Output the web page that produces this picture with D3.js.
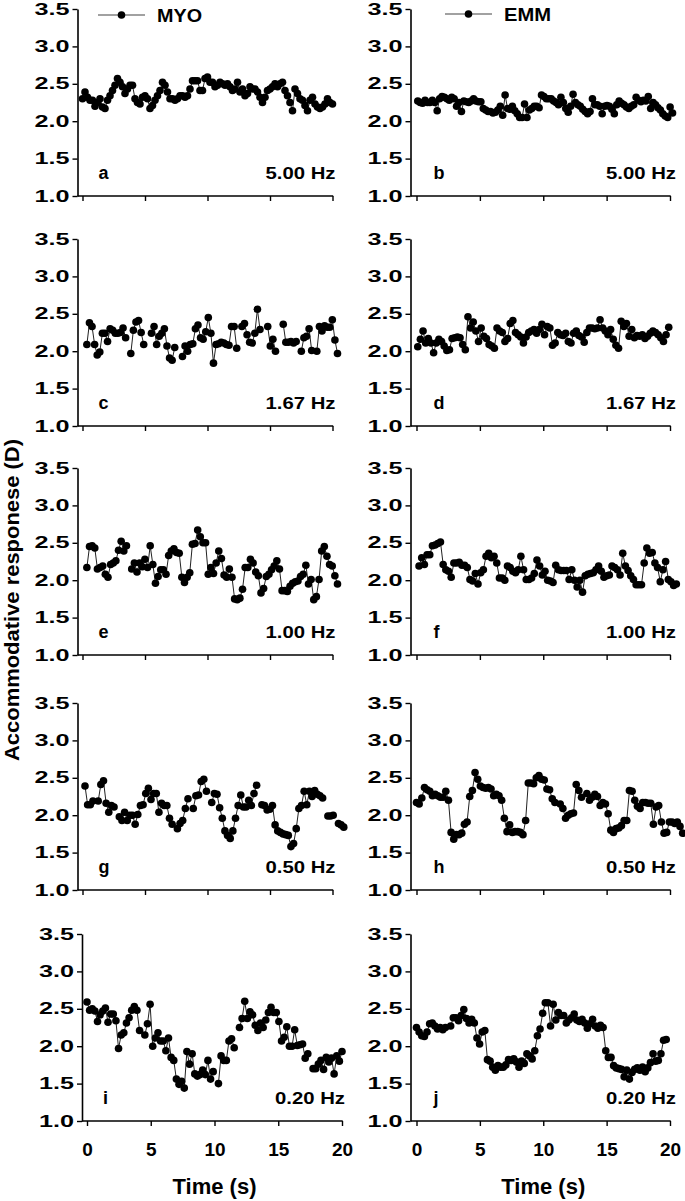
<!DOCTYPE html>
<html><head><meta charset="utf-8">
<script src="https://cdn.jsdelivr.net/npm/d3@7"></script>
<style>
body{margin:0;background:#fff}
svg{display:block}
text{font-family:"Liberation Sans",Arial,sans-serif;font-weight:bold;fill:#000}
</style>
</head><body>
<svg id="chart" width="685" height="1201"></svg>
<script>
// ---------------- data ----------------
const yTicks = [1.0, 1.5, 2.0, 2.5, 3.0, 3.5];
const xTicks = [0, 5, 10, 15, 20];
const seriesNames = ["MYO", "EMM"];
const panelLetters = ["a","b","c","d","e","f","g","h","i","j"];
const freqLabels = ["5.00 Hz","5.00 Hz","1.67 Hz","1.67 Hz","1.00 Hz","1.00 Hz","0.50 Hz","0.50 Hz","0.20 Hz","0.20 Hz"];
const yTitle = "Accommodative responese (D)";
const xTitle = "Time (s)";
// time span [first, last sample] in seconds for each panel (samples evenly spaced, null = missing)
const spans = [[0,20],[0.1,20.2],[0.35,20.4],[0.1,19.9],[0.35,20.4],[0.2,20.5],[0.2,20.9],[0,21],[0,20],[0,19.7]];

const myo5 = [2.30,2.39,2.32,2.28,2.28,2.20,2.25,2.30,2.19,2.17,2.28,2.34,2.41,2.48,2.57,2.52,2.46,2.37,2.43,2.48,2.48,2.30,2.25,2.23,2.32,2.34,2.30,2.17,2.21,2.28,2.34,2.41,2.52,2.48,2.39,2.30,2.30,2.28,2.30,2.34,2.34,2.32,2.34,2.43,2.54,2.54,2.54,2.41,2.41,2.57,2.59,2.52,2.52,2.46,2.48,2.52,2.50,2.48,2.50,2.46,2.41,2.43,2.52,2.39,2.43,2.34,2.37,2.46,2.43,2.43,2.39,2.32,2.25,2.32,2.41,2.43,2.46,2.50,2.46,2.50,2.52,2.41,2.34,2.25,2.14,2.43,2.37,2.30,2.28,2.21,2.14,2.28,2.32,2.23,2.19,2.17,2.19,2.23,2.30,2.25,2.23];
const emm5 = [2.27,2.25,2.24,2.28,2.25,2.25,2.28,2.25,2.14,2.30,2.33,2.32,2.30,2.28,2.32,2.30,2.20,2.25,2.13,2.27,2.26,2.25,2.27,2.30,2.27,2.26,2.26,2.17,2.15,2.13,2.13,2.11,2.12,2.15,2.20,2.08,2.35,2.17,2.16,2.20,2.14,2.10,2.05,2.05,2.23,2.05,2.15,2.17,2.20,2.20,2.18,2.35,2.33,2.30,2.30,2.30,2.27,2.25,2.22,2.32,2.25,2.17,2.12,2.20,2.36,2.25,2.22,2.20,2.16,2.13,2.10,2.13,2.30,2.22,2.22,2.20,2.10,2.20,2.21,2.20,2.16,2.10,2.22,2.27,2.24,2.22,2.19,2.17,2.20,2.22,2.32,2.28,2.26,2.28,2.27,2.33,2.17,2.25,2.22,2.18,2.15,2.10,2.07,2.05,2.19,2.11];
const myo167 = [2.09,2.38,2.33,2.09,1.95,1.99,2.24,2.24,2.13,2.30,2.28,2.24,2.24,2.25,2.31,2.18,null,1.97,2.28,2.39,2.41,2.25,2.09,null,null,2.24,2.33,2.09,2.20,2.24,2.30,2.07,1.91,1.88,2.05,null,null,1.93,2.07,2.00,2.09,2.10,2.30,2.35,2.18,2.16,2.26,2.45,2.24,1.84,2.09,2.10,2.12,2.11,2.09,2.08,2.33,2.33,2.04,null,2.33,2.37,2.22,2.12,2.11,2.24,2.56,2.29,null,null,2.33,2.07,2.16,2.00,null,null,2.36,2.12,2.12,2.13,2.11,2.13,null,2.00,2.18,2.20,2.30,2.01,null,2.00,2.33,2.27,2.34,2.32,2.32,2.42,2.15,1.97];
const emm167 = [2.06,2.16,2.27,2.11,2.17,2.11,1.98,2.11,2.16,2.13,2.07,2.01,2.02,2.17,2.18,2.19,2.18,2.09,2.02,2.46,2.31,2.39,2.27,2.13,2.31,2.20,2.17,2.09,2.07,2.04,2.31,2.27,2.25,2.13,2.17,2.37,2.41,2.25,2.22,2.19,2.11,2.19,2.25,2.27,2.29,2.24,2.29,2.36,2.22,2.33,2.31,2.08,2.11,2.25,2.22,2.21,2.24,2.13,2.11,2.24,2.27,2.21,2.19,2.12,2.25,2.31,2.31,2.30,2.31,2.42,2.31,2.27,2.22,2.29,2.16,2.08,2.04,2.40,2.33,2.37,2.20,2.29,2.18,2.21,2.20,2.22,2.17,2.20,2.24,2.27,2.25,2.22,2.18,2.13,2.22,2.32];
const myo100 = [2.17,2.45,2.46,2.43,2.15,2.17,2.19,2.08,2.04,2.21,2.23,2.26,2.40,2.52,2.39,2.46,null,2.15,2.23,2.11,2.23,2.18,2.28,2.17,2.46,2.21,1.96,2.05,2.14,2.14,2.08,2.33,2.39,2.42,2.37,2.36,2.04,1.97,2.04,2.10,2.48,2.49,2.67,2.58,2.50,2.50,2.08,2.17,2.09,2.23,2.39,2.29,2.07,2.04,2.15,2.04,1.75,1.74,1.76,1.88,2.17,2.17,2.28,2.23,2.11,2.06,1.83,1.89,2.05,2.08,2.14,2.19,2.26,2.15,1.86,1.86,1.85,1.92,1.96,1.98,1.99,2.05,2.08,2.20,1.95,2.01,1.74,1.78,2.01,2.39,2.45,2.32,2.21,2.19,2.06,1.95];
const emm100 = [2.19,2.30,2.21,2.34,2.34,2.46,2.47,2.49,2.51,2.21,2.14,2.12,2.04,2.23,2.23,2.24,2.20,2.20,2.17,2.01,1.99,2.09,1.95,2.10,2.14,2.32,2.36,2.30,2.32,2.23,2.03,2.03,2.00,2.19,2.17,2.12,2.10,2.14,2.32,2.14,2.01,2.01,2.03,2.09,2.27,2.19,2.07,2.12,2.00,1.99,1.97,2.20,2.14,2.13,2.13,2.13,2.01,2.14,2.00,1.91,2.00,1.84,2.06,2.08,2.09,2.10,2.14,2.19,2.12,2.04,2.06,2.07,2.19,2.17,2.14,2.07,2.36,2.19,2.13,2.06,2.01,1.94,1.94,1.94,2.23,2.43,2.36,2.37,2.23,2.17,1.98,2.14,2.25,2.01,1.98,1.93,1.95];
const myo050 = [2.39,2.14,2.14,2.19,null,2.19,2.41,2.46,2.16,2.04,2.13,2.11,null,1.98,1.93,2.04,1.93,2.00,2.00,1.88,2.01,2.13,2.14,2.29,2.36,2.21,2.29,2.29,2.04,2.16,2.13,2.13,1.96,1.88,null,1.82,1.89,1.93,2.09,2.22,null,2.09,2.26,2.27,2.45,2.48,2.32,null,2.17,2.29,2.28,2.10,1.96,1.79,1.73,1.69,1.79,1.96,2.13,2.27,2.11,2.11,2.20,2.13,2.29,2.40,null,2.14,2.13,2.07,2.08,2.13,1.87,1.79,1.77,1.75,1.74,1.73,1.58,1.62,1.82,2.09,2.13,2.32,2.14,2.32,2.25,2.33,2.28,2.26,2.23,null,1.99,1.99,2.00,null,1.89,1.87,1.84];
const emm050 = [2.17,2.15,2.23,2.37,2.34,2.32,2.26,2.28,2.26,2.24,2.24,2.32,2.20,1.77,1.68,1.74,1.74,1.76,1.88,1.91,2.25,2.33,2.57,2.48,2.39,2.37,2.36,2.37,2.35,2.26,2.28,2.26,2.20,1.96,1.78,1.87,1.77,1.78,1.78,1.77,1.74,1.93,2.43,2.43,2.42,2.50,2.53,2.48,2.47,2.35,2.34,2.22,2.17,null,2.15,2.09,1.96,2.00,2.02,2.03,2.41,2.33,2.24,null,2.29,2.20,2.24,2.28,2.25,2.13,2.17,2.15,2.02,1.80,1.77,1.82,1.83,1.86,1.93,1.93,2.33,2.32,2.20,2.12,2.09,2.17,2.17,2.16,2.16,1.88,2.11,2.13,1.91,1.76,1.77,1.91,1.91,1.89,1.91,1.85,1.76];
const myo020 = [2.59,2.48,2.50,2.47,2.33,2.42,2.47,2.51,2.32,2.43,2.43,2.34,1.97,2.15,2.18,2.31,2.38,2.48,2.53,2.48,2.21,null,2.15,2.30,2.56,2.00,2.11,2.18,2.07,2.07,1.94,2.11,1.85,1.81,1.56,1.49,1.53,1.44,1.93,1.76,1.90,1.63,1.60,1.62,1.68,1.62,1.81,1.56,1.66,null,1.50,1.87,1.81,1.81,2.07,2.10,1.98,null,2.25,2.37,2.60,2.37,2.46,2.42,2.28,2.21,2.31,2.25,2.35,2.45,2.52,2.45,2.45,2.33,2.07,2.12,2.26,2.00,2.00,2.22,2.01,2.02,2.03,1.84,1.90,null,1.70,1.70,1.76,1.81,1.69,1.85,1.79,1.84,1.63,1.87,1.80,1.93];
const emm020 = [2.25,2.19,2.14,2.13,2.19,2.30,2.31,2.27,2.23,2.25,2.22,2.25,null,2.27,2.38,2.38,2.34,2.41,2.49,2.37,2.31,2.36,2.31,2.11,2.03,2.19,2.21,1.82,1.80,1.72,1.68,1.74,1.72,1.72,1.75,1.82,1.81,1.83,1.79,1.72,1.80,1.77,1.90,1.87,1.83,1.94,2.14,2.23,2.44,2.58,2.58,2.27,2.56,2.35,2.45,2.41,2.41,2.31,2.35,2.38,2.43,2.35,2.33,2.36,2.31,2.24,2.30,2.36,2.27,2.24,2.28,2.25,1.94,1.85,1.85,1.74,1.71,1.70,1.69,1.59,1.68,1.56,1.65,1.69,1.71,1.68,1.72,1.66,1.71,1.78,1.90,1.80,1.81,1.90,2.08,2.09];

const panelSeries = [myo5, emm5, myo167, emm167, myo100, emm100, myo050, emm050, myo020, emm020];

// ---------------- layout ----------------
const svg = d3.select("#chart");
const rowTop = [9, 239, 468, 703, 934];
const plotH = 187;
function frame(col, row) {
  if (col === 0) return row === 4 ? {ax: 82, x0: 87, x1: 342} : {ax: 77.5, x0: 82.5, x1: 332.5};
  return {ax: 410.5, x0: 416.5, x1: 670};
}

panelSeries.forEach((vals, k) => {
  const col = k % 2, row = Math.floor(k / 2);
  const f = frame(col, row);
  const top = rowTop[row], bot = top + plotH;
  const x = d3.scaleLinear().domain([0, 20]).range([f.x0, f.x1]);
  const y = d3.scaleLinear().domain([1, 3.5]).range([bot, top]);
  const g = svg.append("g");

  // y axis
  const ya = g.append("g").attr("transform", `translate(${f.ax},0)`)
    .call(d3.axisLeft(y).tickValues(yTicks).tickFormat(d3.format(".1f"))
      .tickSize(5).tickSizeOuter(0).tickPadding(3));
  ya.attr("font-family", null).attr("font-size", null);
  ya.select(".domain").attr("stroke", "#000").attr("stroke-width", 1.6);
  ya.selectAll(".tick line").attr("stroke", "#000").attr("stroke-width", 1.4);
  ya.selectAll(".tick text").style("font-size", "16px")
    .attr("textLength", 35).attr("lengthAdjust", "spacingAndGlyphs");

  // x axis
  const xa = g.append("g").attr("transform", `translate(0,${bot})`)
    .call(d3.axisBottom(x).tickValues(xTicks).tickSize(5).tickSizeOuter(0)
      .tickFormat(row === 4 ? d3.format("d") : () => ""));
  xa.attr("font-family", null).attr("font-size", null);
  xa.select(".domain").remove();
  xa.selectAll(".tick line").attr("stroke", "#000").attr("stroke-width", 1.4);
  xa.selectAll(".tick text").attr("y", 35).attr("dy", 0).style("font-size", "19px");
  g.append("line").attr("x1", f.ax).attr("x2", f.x1 + 0.7)
    .attr("y1", bot).attr("y2", bot).attr("stroke", "#000").attr("stroke-width", 1.6);

  // data
  const [t0, t1] = spans[k];
  const step = (t1 - t0) / (vals.length - 1);
  const pts = vals.map((v, i) => ({t: t0 + i * step, v}));
  const line = d3.line().defined(d => d.v != null).x(d => x(d.t)).y(d => y(d.v));
  g.append("path").attr("d", line(pts)).attr("fill", "none")
    .attr("stroke", "#222").attr("stroke-width", 1);
  g.append("g").selectAll("circle").data(pts.filter(d => d.v != null)).join("circle")
    .attr("cx", d => x(d.t)).attr("cy", d => y(d.v)).attr("r", 3.8).attr("fill", "#000");

  // panel labels
  g.append("text").attr("x", col === 0 ? f.ax + 21 : f.ax + 23).attr("y", bot - 17)
    .style("font-size", "18px").text(panelLetters[k]);
  g.append("text").attr("x", f.x1 + (col === 0 ? 3 : 6)).attr("y", bot - 17)
    .attr("text-anchor", "end").style("font-size", "17px")
    .attr("textLength", 70).attr("lengthAdjust", "spacingAndGlyphs").text(freqLabels[k]);

  // legend
  if (row === 0) {
    const lx0 = col === 0 ? 98 : 445, lx1 = lx0 + 47, ly = col === 0 ? 15 : 14;
    g.append("line").attr("x1", lx0).attr("x2", lx1).attr("y1", ly).attr("y2", ly)
      .attr("stroke", "#444").attr("stroke-width", 1.2);
    g.append("circle").attr("cx", (lx0 + lx1) / 2).attr("cy", ly).attr("r", 3.8).attr("fill", "#000");
    g.append("text").attr("x", lx1 + 12).attr("y", ly + 7).style("font-size", "19px")
      .attr("textLength", col === 0 ? 45 : 47).attr("lengthAdjust", "spacingAndGlyphs")
      .text(seriesNames[col]);
  }
  // x title
  if (row === 4) {
    g.append("text").attr("x", (f.x0 + f.x1) / 2).attr("y", 1194).attr("text-anchor", "middle")
      .style("font-size", "22px").text(xTitle);
  }
});

// y title
svg.append("text").attr("transform", "translate(19,600) rotate(-90)")
  .attr("text-anchor", "middle").style("font-size", "20px")
  .attr("textLength", 322).attr("lengthAdjust", "spacingAndGlyphs").text(yTitle);
</script>
</body></html>
